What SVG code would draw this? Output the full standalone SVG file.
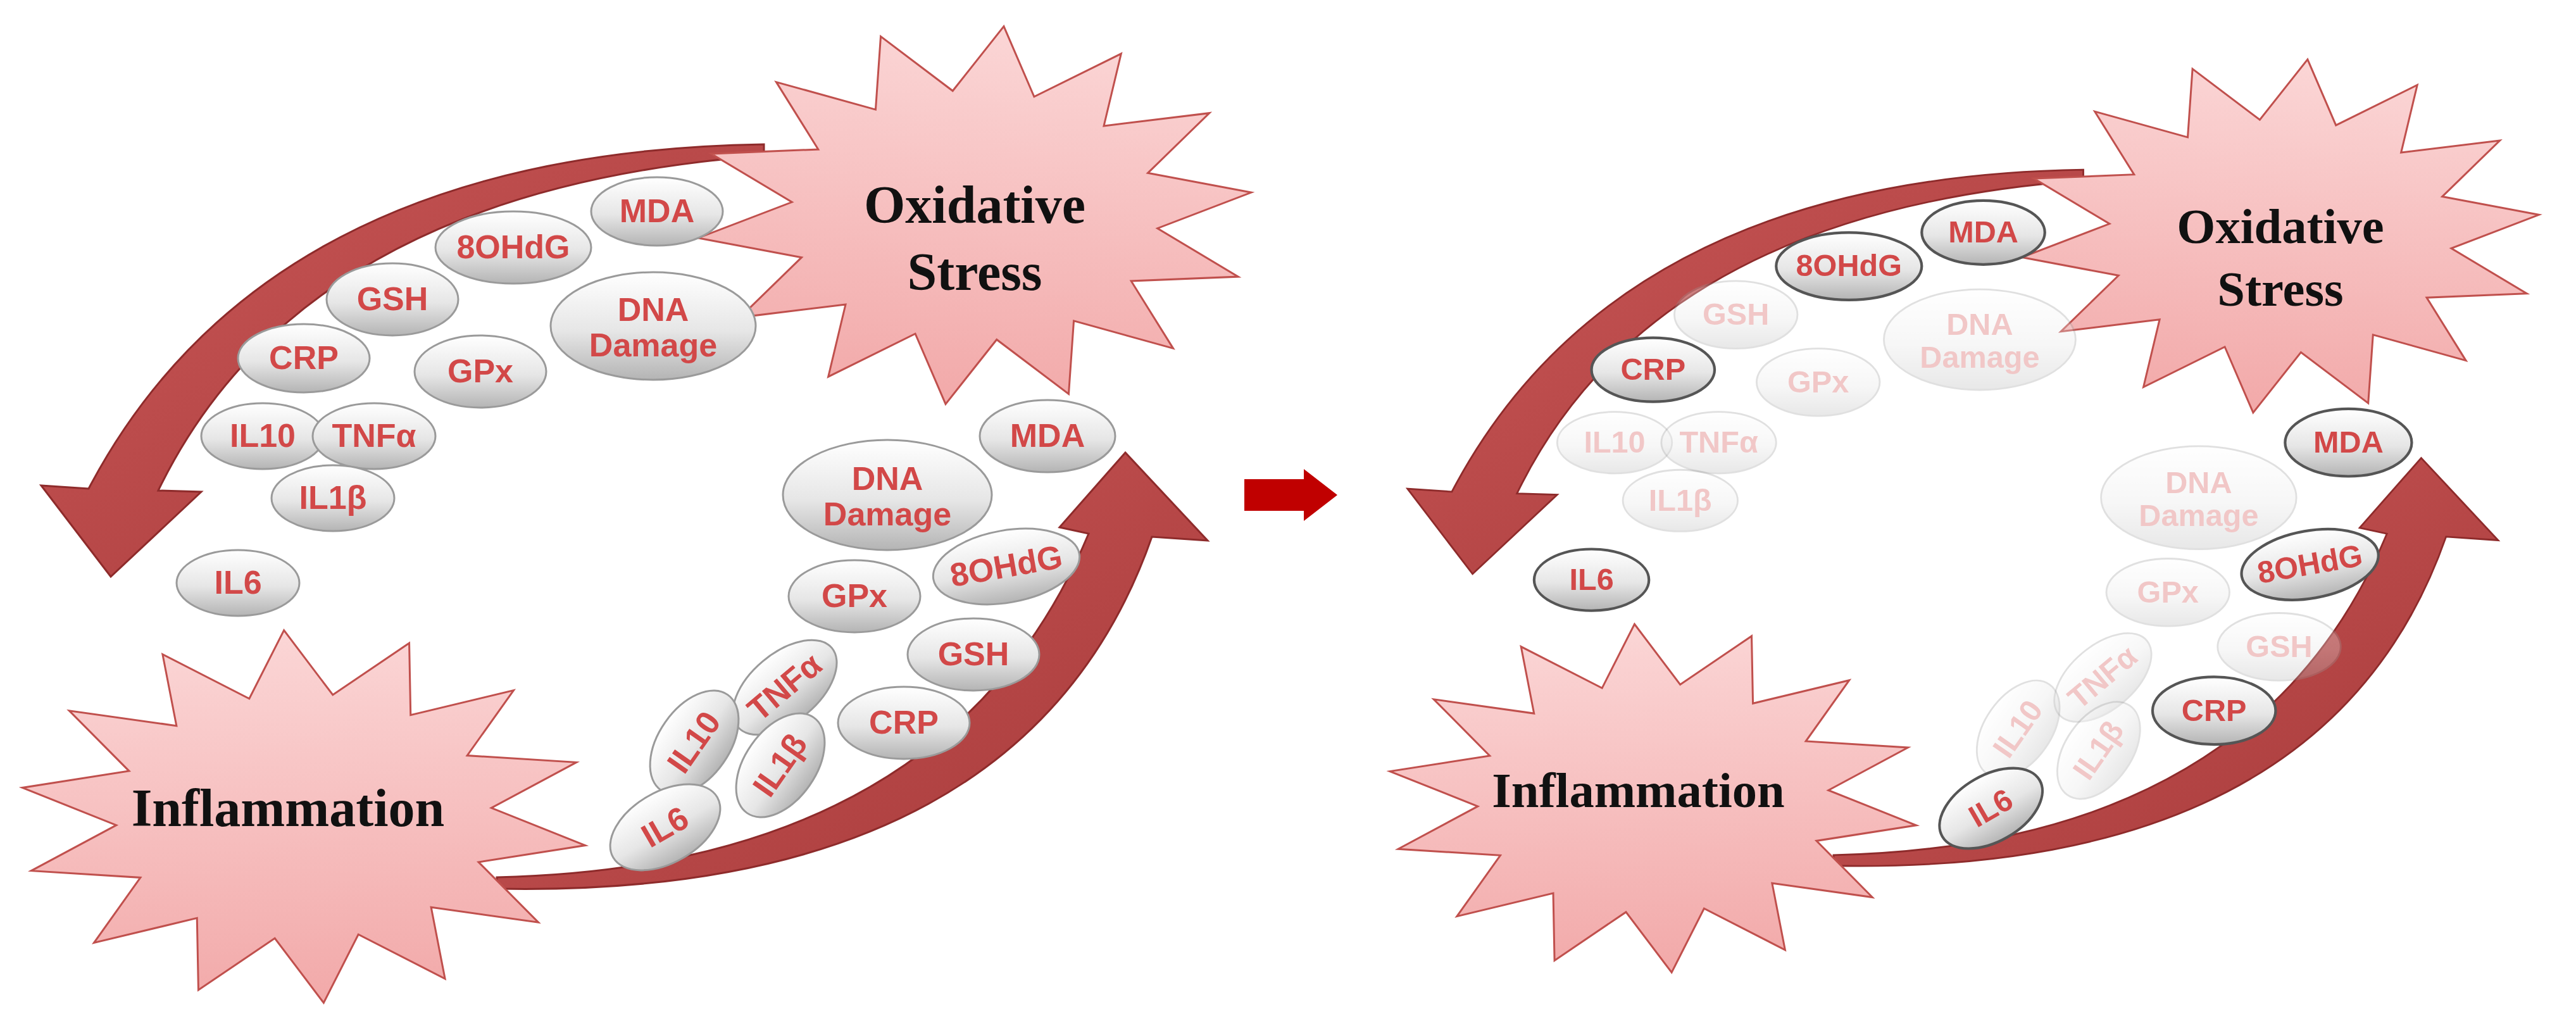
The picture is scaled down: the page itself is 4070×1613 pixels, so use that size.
<svg xmlns="http://www.w3.org/2000/svg" xmlns:xlink="http://www.w3.org/1999/xlink" width="4070" height="1613" viewBox="0 0 4070 1613">
<style>
.pill{fill:url(#pg);stroke:#9a9a9a;stroke-width:3}
.dark .pill{stroke:#555555;stroke-width:4.5}
.lbl{font-family:"Liberation Sans",Arial,sans-serif;font-weight:bold;font-size:52px;fill:#d24848;text-anchor:middle}
.fade{opacity:0.3}
.star{fill:url(#sg);stroke:#c0504d;stroke-width:3}
.stxt{font-family:"Liberation Serif","Times New Roman",serif;font-weight:bold;font-size:84px;fill:#111;text-anchor:middle}
.arr{fill:url(#ag);stroke:#8e2b2b;stroke-width:3}
</style>
<defs>
<linearGradient id="pg" x1="0" y1="0" x2="0" y2="1"><stop offset="0" stop-color="#ffffff"/><stop offset="0.55" stop-color="#e6e6e6"/><stop offset="1" stop-color="#b4b4b4"/></linearGradient>
<linearGradient id="sg" x1="0" y1="0" x2="0" y2="1"><stop offset="0" stop-color="#fbd6d6"/><stop offset="1" stop-color="#f2a9a9"/></linearGradient>
<linearGradient id="ag" x1="0" y1="0" x2="1" y2="1"><stop offset="0" stop-color="#c95757"/><stop offset="1" stop-color="#a73a3a"/></linearGradient>
<polygon id="starshape" class="star" vector-effect="non-scaling-stroke" points="0,-100 14.7,-64.3 43.4,-90.1 41.2,-51.6 78.2,-62.3 59.5,-28.6 97.5,-22.3 66,0 97.5,22.3 59.5,28.6 78.2,62.3 41.2,51.6 43.4,90.1 14.7,64.3 0,100 -14.7,64.3 -43.4,90.1 -41.2,51.6 -78.2,62.3 -59.5,28.6 -97.5,22.3 -66,0 -97.5,-22.3 -59.5,-28.6 -78.2,-62.3 -41.2,-51.6 -43.4,-90.1 -14.7,-64.3"/>
</defs>
<rect width="4070" height="1613" fill="#ffffff"/>

<g id="connectors">
<path class="arr" d="M1207,228 Q420,240 140,772 L65,767 L175,911 L318,777 L250,775 Q480,300 1207,246 Z"/>
<path class="arr" d="M785,1386 Q1500,1370 1720,843 L1674,833 L1778,715 L1908,854 L1820,848 Q1620,1420 785,1404 Z"/>
<path class="arr" transform="translate(2163,55) scale(0.935)" d="M1207,228 Q420,240 140,772 L65,767 L175,911 L318,777 L250,775 Q480,300 1207,246 Z"/>
<path class="arr" transform="translate(2163,55) scale(0.935)" d="M785,1386 Q1500,1370 1720,843 L1674,833 L1778,715 L1908,854 L1820,848 Q1620,1420 785,1404 Z"/>
<polygon points="1966,757 2060,757 2060,741 2113,782 2060,823 2060,807 1966,807" fill="#c00000"/>
</g>

<g id="left">
<g id="l-ox"><use xlink:href="#starshape" transform="translate(1540,340) scale(4.4,3.0) rotate(6)"/><text class="stxt" x="1540" y="352">Oxidative</text><text class="stxt" x="1540" y="458">Stress</text></g>
<g id="l-infl"><use xlink:href="#starshape" transform="translate(480,1290) scale(4.5,2.95) rotate(-4)"/><text class="stxt" x="455" y="1305">Inflammation</text></g>
<g id="l-mda1" transform="translate(1038,334)"><ellipse class="pill" rx="104" ry="54"/><text class="lbl" y="17">MDA</text></g>
<g id="l-ohdg1" transform="translate(811,391)"><ellipse class="pill" rx="123" ry="57"/><text class="lbl" y="17">8OHdG</text></g>
<g id="l-gsh1" transform="translate(620,473)"><ellipse class="pill" rx="104" ry="57"/><text class="lbl" y="17">GSH</text></g>
<g id="l-dna1" transform="translate(1032,515)"><ellipse class="pill" rx="162" ry="85"/><text class="lbl" y="-8">DNA</text><text class="lbl" y="48">Damage</text></g>
<g id="l-crp1" transform="translate(480,566)"><ellipse class="pill" rx="104" ry="54"/><text class="lbl" y="17">CRP</text></g>
<g id="l-gpx1" transform="translate(759,587)"><ellipse class="pill" rx="104" ry="57"/><text class="lbl" y="17">GPx</text></g>
<g id="l-il101" transform="translate(415,689)"><ellipse class="pill" rx="97" ry="52"/><text class="lbl" y="17">IL10</text></g>
<g id="l-tnf1" transform="translate(591,689)"><ellipse class="pill" rx="97" ry="52"/><text class="lbl" y="17">TNFα</text></g>
<g id="l-il1b1" transform="translate(526,787)"><ellipse class="pill" rx="97" ry="52"/><text class="lbl" y="17">IL1β</text></g>
<g id="l-il61" transform="translate(376,921)"><ellipse class="pill" rx="97" ry="52"/><text class="lbl" y="17">IL6</text></g>
<g id="l-mda2" transform="translate(1655,689)"><ellipse class="pill" rx="107" ry="57"/><text class="lbl" y="17">MDA</text></g>
<g id="l-dna2" transform="translate(1402,782)"><ellipse class="pill" rx="165" ry="87"/><text class="lbl" y="-8">DNA</text><text class="lbl" y="48">Damage</text></g>
<g id="l-ohdg2" transform="translate(1590,895) rotate(-10)"><ellipse class="pill" rx="117" ry="57"/><text class="lbl" y="17">8OHdG</text></g>
<g id="l-gpx2" transform="translate(1350,942)"><ellipse class="pill" rx="104" ry="57"/><text class="lbl" y="17">GPx</text></g>
<g id="l-gsh2" transform="translate(1538,1034)"><ellipse class="pill" rx="104" ry="57"/><text class="lbl" y="17">GSH</text></g>
<g id="l-tnf2" transform="translate(1240,1086) rotate(-40)"><ellipse class="pill" rx="97" ry="54"/><text class="lbl" y="17">TNFα</text></g>
<g id="l-crp2" transform="translate(1428,1142)"><ellipse class="pill" rx="104" ry="57"/><text class="lbl" y="17">CRP</text></g>
<g id="l-il102" transform="translate(1097,1173) rotate(-55)"><ellipse class="pill" rx="92" ry="56"/><text class="lbl" y="17">IL10</text></g>
<g id="l-il1b2" transform="translate(1233,1209) rotate(-55)"><ellipse class="pill" rx="92" ry="56"/><text class="lbl" y="17">IL1β</text></g>
<g id="l-il62" transform="translate(1051,1307) rotate(-30)"><ellipse class="pill" rx="95" ry="56"/><text class="lbl" y="17">IL6</text></g>
</g>

<g id="right" transform="translate(2163,55) scale(0.935)">
<g id="r-ox"><use xlink:href="#starshape" transform="translate(1540,340) scale(4.4,3.0) rotate(6)"/><text class="stxt" x="1540" y="352">Oxidative</text><text class="stxt" x="1540" y="458">Stress</text></g>
<g id="r-infl"><use xlink:href="#starshape" transform="translate(480,1290) scale(4.5,2.95) rotate(-4)"/><text class="stxt" x="455" y="1305">Inflammation</text></g>
<g id="r-mda1" class="dark" transform="translate(1038,334)"><ellipse class="pill" rx="104" ry="54"/><text class="lbl" y="17">MDA</text></g>
<g id="r-ohdg1" class="dark" transform="translate(811,391)"><ellipse class="pill" rx="123" ry="57"/><text class="lbl" y="17">8OHdG</text></g>
<g id="r-gsh1" class="fade" transform="translate(620,473)"><ellipse class="pill" rx="104" ry="57"/><text class="lbl" y="17">GSH</text></g>
<g id="r-dna1" class="fade" transform="translate(1032,515)"><ellipse class="pill" rx="162" ry="85"/><text class="lbl" y="-8">DNA</text><text class="lbl" y="48">Damage</text></g>
<g id="r-crp1" class="dark" transform="translate(480,566)"><ellipse class="pill" rx="104" ry="54"/><text class="lbl" y="17">CRP</text></g>
<g id="r-gpx1" class="fade" transform="translate(759,587)"><ellipse class="pill" rx="104" ry="57"/><text class="lbl" y="17">GPx</text></g>
<g id="r-il101" class="fade" transform="translate(415,689)"><ellipse class="pill" rx="97" ry="52"/><text class="lbl" y="17">IL10</text></g>
<g id="r-tnf1" class="fade" transform="translate(591,689)"><ellipse class="pill" rx="97" ry="52"/><text class="lbl" y="17">TNFα</text></g>
<g id="r-il1b1" class="fade" transform="translate(526,787)"><ellipse class="pill" rx="97" ry="52"/><text class="lbl" y="17">IL1β</text></g>
<g id="r-il61" class="dark" transform="translate(376,921)"><ellipse class="pill" rx="97" ry="52"/><text class="lbl" y="17">IL6</text></g>
<g id="r-mda2" class="dark" transform="translate(1655,689)"><ellipse class="pill" rx="107" ry="57"/><text class="lbl" y="17">MDA</text></g>
<g id="r-dna2" class="fade" transform="translate(1402,782)"><ellipse class="pill" rx="165" ry="87"/><text class="lbl" y="-8">DNA</text><text class="lbl" y="48">Damage</text></g>
<g id="r-ohdg2" class="dark" transform="translate(1590,895) rotate(-10)"><ellipse class="pill" rx="117" ry="57"/><text class="lbl" y="17">8OHdG</text></g>
<g id="r-gpx2" class="fade" transform="translate(1350,942)"><ellipse class="pill" rx="104" ry="57"/><text class="lbl" y="17">GPx</text></g>
<g id="r-gsh2" class="fade" transform="translate(1538,1034)"><ellipse class="pill" rx="104" ry="57"/><text class="lbl" y="17">GSH</text></g>
<g id="r-tnf2" class="fade" transform="translate(1240,1086) rotate(-40)"><ellipse class="pill" rx="97" ry="54"/><text class="lbl" y="17">TNFα</text></g>
<g id="r-crp2" class="dark" transform="translate(1428,1142)"><ellipse class="pill" rx="104" ry="57"/><text class="lbl" y="17">CRP</text></g>
<g id="r-il102" class="fade" transform="translate(1097,1173) rotate(-55)"><ellipse class="pill" rx="92" ry="56"/><text class="lbl" y="17">IL10</text></g>
<g id="r-il1b2" class="fade" transform="translate(1233,1209) rotate(-55)"><ellipse class="pill" rx="92" ry="56"/><text class="lbl" y="17">IL1β</text></g>
<g id="r-il62" class="dark" transform="translate(1051,1307) rotate(-30)"><ellipse class="pill" rx="95" ry="56"/><text class="lbl" y="17">IL6</text></g>
</g>
</svg>
